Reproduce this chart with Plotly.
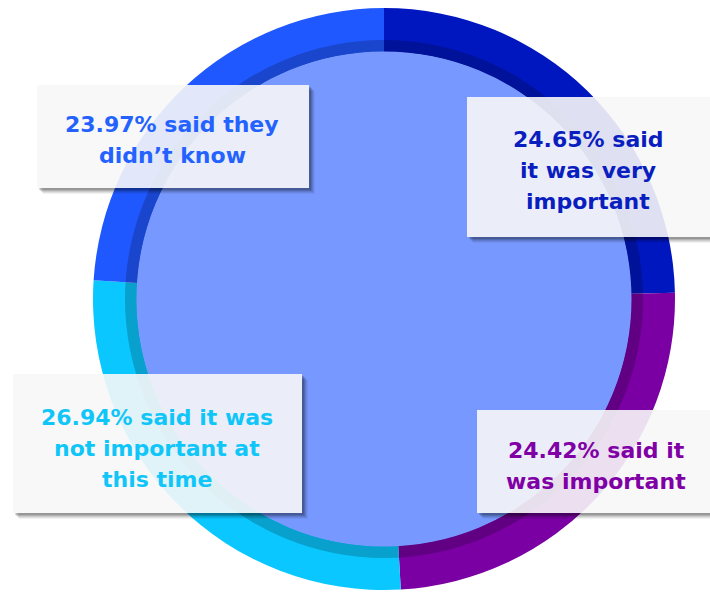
import plotly.graph_objects as go

# ---- data ----
categories = ["it was very important", "it was important",
              "it was not important at this time", "they didn't know"]
values = [24.65, 24.42, 26.94, 23.97]
seg_colors = ["#0017C0", "#7A00A3", "#0AC8FF", "#2058FF"]
label_lines = [
    ["24.65% said", "it was very", "important"],
    ["24.42% said it", "was important"],
    ["26.94% said it was", "not important at", "this time"],
    ["23.97% said they", "didn’t know"],
]
text_colors = ["#0A1EBF", "#8000A6", "#10C6F8", "#2462FF"]

W, H = 710, 592
cx, cy = 384, 299
R_out, R_mid, R_in = 291, 259, 247

def dom(r):
    return dict(x=[(cx - r) / W, (cx + r) / W], y=[1 - (cy + r) / H, 1 - (cy - r) / H])

fig = go.Figure()
fig.add_trace(go.Pie(
    labels=categories, values=values, sort=False, direction="clockwise", rotation=0,
    hole=R_in / R_out, domain=dom(R_out), textinfo="none", hoverinfo="label+percent",
    marker=dict(colors=seg_colors, line=dict(width=0)), showlegend=False,
))
fig.add_trace(go.Pie(
    labels=["shade"], values=[1], sort=False, hole=R_in / R_mid, domain=dom(R_mid),
    textinfo="none", hoverinfo="skip",
    marker=dict(colors=["rgba(0,0,0,0.2)"], line=dict(width=0)), showlegend=False,
))

shapes = [dict(type="circle", xref="x", yref="y", x0=cx - R_in - 0.5, x1=cx + R_in + 0.5,
               y0=cy - R_in - 0.5, y1=cy + R_in + 0.5, fillcolor="#7799FF",
               line=dict(width=0), layer="above")]

# label boxes (x0, y0, x1, y1) in pixels
boxes = [(467, 97, 716, 237), (477, 410, 716, 513), (13, 374, 302, 513), (37, 85, 309, 188)]

for (x0, y0, x1, y1) in boxes:
    for d, a in [(6, 0.05), (5, 0.07), (4, 0.09), (3, 0.12), (2, 0.15)]:
        path = (f"M {x1},{y0 + d} L {x1 + d},{y0 + d} L {x1 + d},{y1 + d} "
                f"L {x0 + d},{y1 + d} L {x0 + d},{y1} L {x1},{y1} Z")
        shapes.append(dict(type="path", xref="x", yref="y", path=path,
                           fillcolor=f"rgba(0,0,0,{a})", line=dict(width=0), layer="above"))
    shapes.append(dict(type="rect", xref="x", yref="y", x0=x0, x1=x1, y0=y0, y1=y1,
                       fillcolor="rgba(247,247,248,0.9)", line=dict(width=0), layer="above"))

text_centers = [(588, 170), (596, 466), (157, 448), (172, 140)]
LINE_GAP = 31
annotations = []
for lines, col, (tx, ty) in zip(label_lines, text_colors, text_centers):
    n = len(lines)
    for i, ln in enumerate(lines):
        annotations.append(dict(
            x=tx, y=ty + (i - (n - 1) / 2) * LINE_GAP, xref="x", yref="y", text=ln,
            showarrow=False, xanchor="center", yanchor="middle", align="center",
            font=dict(family="DejaVu Sans", size=22, color=col, weight="bold"),
        ))

fig.update_layout(
    width=W, height=H, margin=dict(l=0, r=0, t=0, b=0),
    paper_bgcolor="white", plot_bgcolor="rgba(0,0,0,0)",
    xaxis=dict(range=[0, W], visible=False, fixedrange=True),
    yaxis=dict(range=[H, 0], visible=False, fixedrange=True),
    shapes=shapes, annotations=annotations, showlegend=False,
)
fig.write_html("out.html", config={"displayModeBar": False},
               post_script="document.body.style.margin='0px';document.body.style.overflow='hidden';")
